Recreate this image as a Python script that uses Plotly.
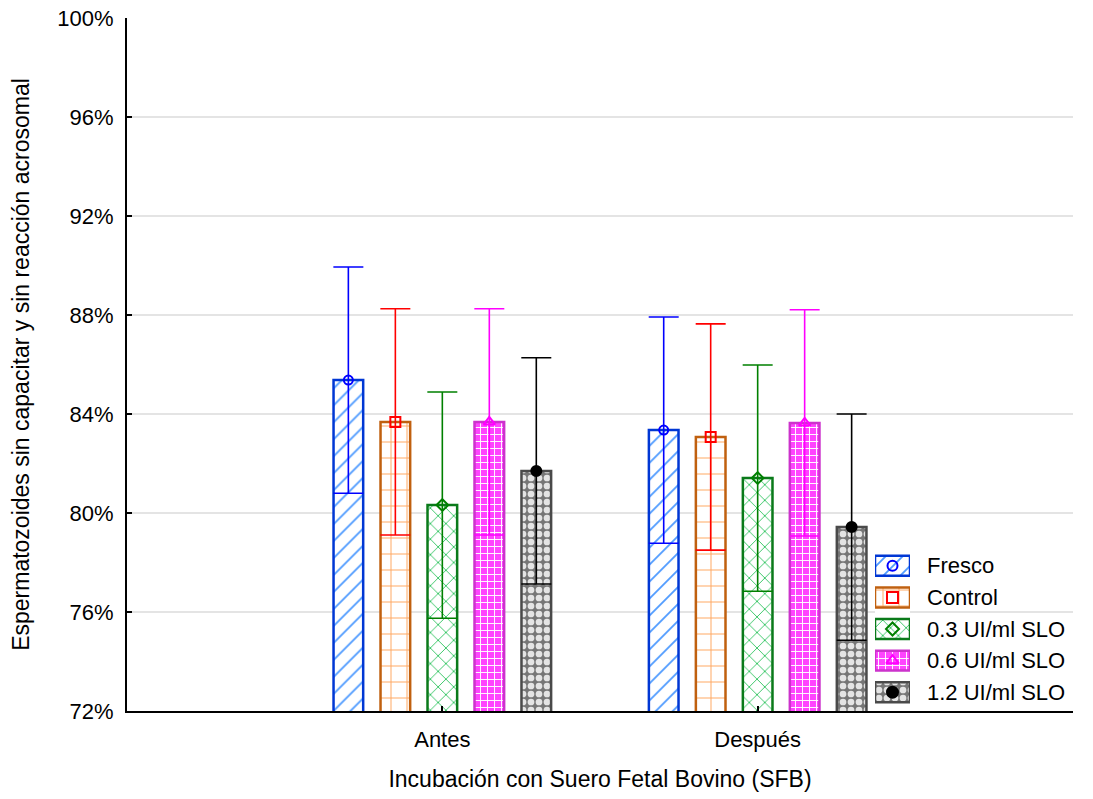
import numpy as np
import plotly.graph_objects as go

# ---------------- data ----------------
categories = ["Antes", "Después"]
series_names = ["Fresco", "Control", "0.3 UI/ml SLO", "0.6 UI/ml SLO", "1.2 UI/ml SLO"]

fresco_mean = [85.37, 83.35]
control_mean = [83.68, 83.07]
slo03_mean = [80.32, 81.41]
slo06_mean = [83.68, 83.64]
slo12_mean = [81.70, 79.43]

fresco_err = [4.57, 4.57]
control_err = [4.57, 4.57]
slo03_err = [4.57, 4.57]
slo06_err = [4.57, 4.57]
slo12_err = [4.57, 4.57]

y_ticks = [72, 76, 80, 84, 88, 92, 96, 100]

means = [fresco_mean, control_mean, slo03_mean, slo06_mean, slo12_mean]
errs = [fresco_err, control_err, slo03_err, slo06_err, slo12_err]

# ---------------- styles ----------------
border_colors = ["#0037d4", "#c0600f", "#0a7a1a", "#cc33cc", "#4a4a4a"]
err_colors = ["#0000ff", "#ff0000", "#008000", "#ff00ff", "#000000"]
patterns = [
    dict(shape="/", fgcolor="#4f9bff", bgcolor="#ffffff", size=12, solidity=0.15, fillmode="replace"),
    dict(shape="+", fgcolor="#ffa860", bgcolor="#ffffff", size=16, solidity=0.12, fillmode="replace"),
    dict(shape="x", fgcolor="#22c055", bgcolor="#ffffff", size=11, solidity=0.15, fillmode="replace"),
    dict(shape="+", fgcolor="#ffffff", bgcolor="#ff44ff", size=7, solidity=0.25, fillmode="replace"),
    dict(shape=".", fgcolor="#e4e4e4", bgcolor="#767676", size=8, solidity=0.55, fillmode="replace"),
]
symbols = ["circle-open", "square-open", "diamond-open", "triangle-up-open", "circle"]
marker_sizes = [9, 10, 9, 10, 10]

slot = 0.149
bar_w = 0.094
font_family = "Liberation Sans, Arial, sans-serif"
fs = 22
fs_title = 23

fig = go.Figure()

cat_pos = np.arange(1, len(categories) + 1)
n = len(series_names)

for i in range(n):
    off = (i - (n - 1) / 2) * slot
    fig.add_trace(go.Bar(
        x=cat_pos, y=means[i], base=0,
        offset=off - bar_w / 2, width=bar_w,
        marker=dict(color=patterns[i]["bgcolor"], pattern=patterns[i],
                    line=dict(color=border_colors[i], width=2.5)),
        name=series_names[i], showlegend=False, hoverinfo="skip",
    ))

for i in range(n):
    off = (i - (n - 1) / 2) * slot
    fig.add_trace(go.Scatter(
        x=cat_pos + off, y=means[i], mode="markers",
        marker=dict(symbol=symbols[i], size=marker_sizes[i], color=err_colors[i],
                    line=dict(color=err_colors[i], width=2)),
        error_y=dict(type="data", array=errs[i], visible=True, color=err_colors[i],
                     thickness=1.6, width=15),
        name=series_names[i], showlegend=False,
    ))

# ---------------- legend drawn as inset axis ----------------
leg_y = list(range(n))
for i in range(n):
    fig.add_trace(go.Bar(
        x=[1], y=[leg_y[i]], base=0, orientation="h", width=0.63,
        marker=dict(color=patterns[i]["bgcolor"], pattern=patterns[i],
                    line=dict(color=border_colors[i], width=2.5)),
        xaxis="x2", yaxis="y2", showlegend=False, hoverinfo="skip",
    ))
    fig.add_trace(go.Scatter(
        x=[0.5], y=[leg_y[i]], mode="markers",
        marker=dict(symbol=symbols[i], size=marker_sizes[i] + 1, color=err_colors[i],
                    line=dict(color=err_colors[i], width=2)),
        xaxis="x2", yaxis="y2", showlegend=False, hoverinfo="skip",
    ))
    fig.add_annotation(
        x=0.8467, xref="paper", y=leg_y[i], yref="y2", text=series_names[i],
        showarrow=False, xanchor="left", yanchor="middle", xshift=-3,
        font=dict(family=font_family, size=fs, color="#000000"),
    )

fig.update_layout(
    width=1093, height=799,
    margin=dict(l=127, r=20, t=18, b=88, autoexpand=False),
    paper_bgcolor="#ffffff", plot_bgcolor="#ffffff",
    showlegend=False,
    font=dict(family=font_family, size=fs, color="#000000"),
    xaxis=dict(
        range=[0, 3], tickvals=[0, 1, 2, 3], ticktext=["", categories[0], categories[1], ""],
        showgrid=False, zeroline=False,
        showline=True, linecolor="#000000", linewidth=2,
        ticks="inside", ticklen=5, tickcolor="#000000", tickwidth=1.5,
        tickfont=dict(size=fs), ticklabelstandoff=8,
        title=dict(text="Incubación con Suero Fetal Bovino (SFB)", font=dict(size=fs_title), standoff=19),
        automargin=False,
    ),
    yaxis=dict(
        range=[72, 100], tickvals=y_ticks, ticktext=[f"{v}%" for v in y_ticks],
        showgrid=True, gridcolor="#e4e4e4", gridwidth=1.5, zeroline=False,
        showline=True, linecolor="#000000", linewidth=2,
        ticks="inside", ticklen=5, tickcolor="#000000", tickwidth=1.5,
        tickfont=dict(size=fs), ticklabelstandoff=7,
        title=dict(text="Espermatozoides sin capacitar y sin reacción acrosomal",
                   font=dict(size=fs_title), standoff=21),
        automargin=False,
    ),
    xaxis2=dict(domain=[0.7907, 0.8277], range=[0, 1], anchor="y2", visible=False, fixedrange=True),
    yaxis2=dict(domain=[0.0043, 0.2323], range=[4.5, -0.5], anchor="x2", visible=False, fixedrange=True),
)

fig.write_html("out.html", config={"displayModeBar": False},
               post_script="document.body.style.margin='0px';")
